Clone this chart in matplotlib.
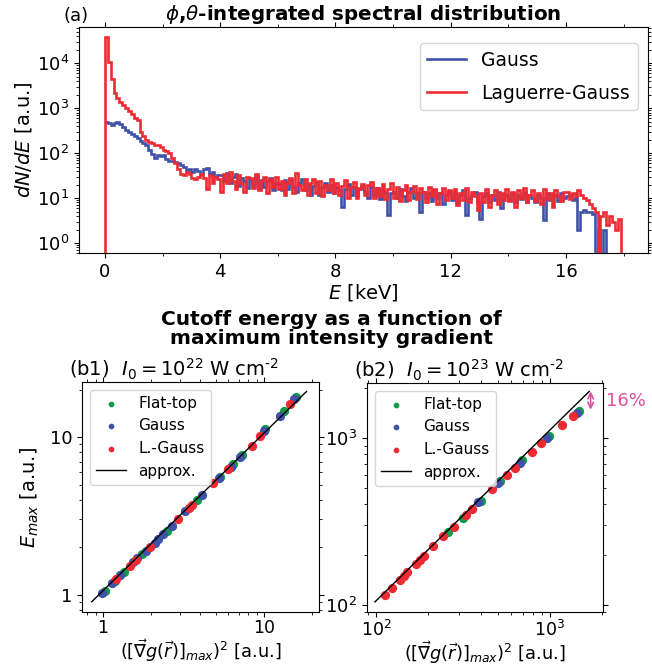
import numpy as np
import matplotlib
matplotlib.use("Agg")
import matplotlib.pyplot as plt
from matplotlib import ticker

# ---- (a) spectrum, 0.1 keV bins from 0 to 18 keV
bin_edges = np.round(np.arange(0, 18.01, 0.1), 2)

gauss_spec = [
    500, 470, 430, 470, 500, 450, 380, 330, 300, 270,
    240, 220, 190, 170, 150, 120, 95, 80, 90, 85,
    90, 75, 68, 66, 64, 60, 55, 50, 42, 45,
    38, 45, 40, 35, 44, 46, 35, 38, 30, 32,
    32, 24, 36, 22, 30, 34, 19, 28, 24, 17,
    26, 20, 29, 16, 25, 18, 24, 28, 15, 22,
    21, 15, 25, 16, 27, 18, 14, 22, 26, 15,
    21, 12, 19, 23, 12, 18, 22, 14, 20, 13,
    18, 15, 6.5, 16, 21, 12, 18, 11, 16, 19,
    14, 10, 18, 12, 17, 9.5, 15, 13, 4.2, 13,
    14, 10, 16, 11, 8.5, 14, 17, 10, 13, 5,
    14, 10, 13, 8.5, 15, 10, 13, 7.5, 12, 14,
    9, 13, 8, 12, 15, 4.2, 10, 12, 14, 8,
    3.5, 11, 13, 8, 12, 9, 14, 6, 11, 12,
    9, 13, 8, 12, 9.5, 14, 8, 12, 10, 8,
    12, 10, 3.2, 13, 9, 11, 12, 8.5, 13, 10,
    11, 12, 9, 10, 2, 5, 5.5, 5, 5, 4.5,
    0, 2, 0, 2, 0, 0, 0, 0, 0, 0,
]

lg_spec = [
    38000, 10500, 4500, 2200, 1700, 1400, 1200, 1000, 850, 750,
    620, 560, 300, 240, 200, 180, 165, 155, 150, 135,
    120, 110, 100, 80, 60, 45, 35, 32, 38, 34,
    28, 27, 30, 35, 28, 16, 33, 22, 30, 26,
    14, 34, 22, 38, 24, 16, 32, 22, 14, 30,
    28, 17, 34, 15, 24, 30, 13, 26, 18, 30,
    16, 24, 12, 22, 28, 13, 36, 20, 15, 27,
    12, 22, 27, 13, 24, 11, 20, 15, 26, 13,
    22, 12, 19, 25, 10, 18, 23, 10, 17, 21,
    12, 20, 23, 10, 17, 11, 21, 9.5, 16, 22,
    10, 18, 8.5, 15, 20, 9, 14, 19, 9.5, 17,
    14, 8, 18, 11, 16, 7.5, 13, 17, 9, 15,
    10, 16, 7, 13, 9, 17, 8, 14, 11, 5.5,
    13, 8, 16, 6.5, 12, 15, 7.5, 13, 9, 16,
    8.5, 14, 6.5, 15, 10, 17, 8, 12, 15, 8.5,
    13, 7.5, 16, 9.5, 13, 6.5, 15, 11, 8.5, 14,
    14, 9.5, 13, 11, 15, 12, 10, 9, 7.5, 6,
    5, 0, 4, 5, 2.5, 4, 3, 2, 3.5, 0,
]

# ---- (b1) I0 = 1e22
b1_flat_x = [1.03, 1.19, 1.34, 1.74, 2.49, 3.82, 5.33, 6.45, 7.27, 10.2, 13.3, 15.8]
b1_flat_y = [1.05, 1.22, 1.39, 1.81, 2.54, 4.0, 5.6, 6.78, 7.72, 11.2, 14.7, 17.9]
b1_gauss_x = [0.98, 1.13, 1.28, 1.54, 1.62, 1.85, 2.1, 2.2, 2.37, 2.67, 3.23, 4.1,
              5.25, 6.2, 7.1, 10.0, 12.5, 15.4]
b1_gauss_y = [1.02, 1.18, 1.33, 1.61, 1.70, 1.90, 2.14, 2.25, 2.42, 2.73, 3.38, 4.3,
              5.5, 6.5, 7.5, 11.0, 13.7, 17.5]
b1_lg_x = [1.2, 1.47, 1.6, 1.96, 2.94, 3.40, 3.56, 4.84, 6.0, 8.39, 9.44, 14.5]
b1_lg_y = [1.25, 1.51, 1.65, 2.02, 3.03, 3.55, 3.72, 5.08, 6.3, 8.83, 10.2, 16.3]
b1_fit_x = [0.85, 18.4]
b1_fit_y = [0.90, 19.5]

# ---- (b2) I0 = 1e23
b2_flat_x = [258, 318, 400, 516, 693, 984, 1473]
b2_flat_y = [273, 332, 421, 551, 734, 1023, 1445]
b2_gauss_x = [387, 505, 672, 957, 1435]
b2_gauss_y = [412, 535, 711, 996, 1419]
b2_lg_x = [112.6, 123, 137, 144, 151, 169, 179, 190, 214, 244, 282, 328, 355,
           462, 564, 629, 785, 887, 1167, 1350]
b2_lg_y = [115, 126, 141, 148, 157, 175, 186, 197, 225, 258, 294, 347, 377,
           492, 604, 662, 830, 934, 1199, 1355]
b2_fit_x = [98.7, 1683]
b2_fit_y = [104, 1905]

blue = "#3f51a8"
red = "#ee2a33"
green = "#129a4a"
pink = "#e0509c"

fig = plt.figure(figsize=(6.52, 6.65), dpi=100)

ax = fig.add_axes([0.1212, 0.6195, 0.8727, 0.3399])
ax.stairs(gauss_spec, bin_edges, baseline=None, color=blue, lw=1.9, label="Gauss")
ax.stairs(lg_spec, bin_edges, baseline=0, color=red, lw=1.9, label="Laguerre-Gauss")
ax.set_yscale("log")
ax.set_xlim(-0.9, 18.85)
ax.set_ylim(0.6, 6.4e4)
ax.set_xticks([0, 4, 8, 12, 16])
ax.xaxis.set_minor_locator(ticker.MultipleLocator(2))
ax.tick_params(which="both", top=True, right=True, labelsize=13)
ax.set_xlabel("$E$ [keV]", fontsize=14, labelpad=1)
ax.set_ylabel("$dN/dE$ [a.u.]", fontsize=14, labelpad=2)
ax.set_title(r"$\phi$,$\theta$-integrated spectral distribution",
             fontsize=14.3, fontweight="bold", pad=5)
ax.text(-0.005, 1.025, "(a)", transform=ax.transAxes, fontsize=13, ha="center")
ax.legend(loc="upper right", bbox_to_anchor=(0.995, 0.962), fontsize=13.5,
          handlelength=2.1, labelspacing=0.75, borderaxespad=0.4)

fig.text(0.508, 0.505, "Cutoff energy as a function of\nmaximum intensity gradient",
         ha="center", va="center", fontsize=14.5, fontweight="bold", linespacing=1.0)

xlab = r"$([\vec{\nabla}g(\vec{r})]_{max})^2$ [a.u.]"

def panel(rect, fx, fy, gx, gy, lx, ly, fitx, fity, title):
    a = fig.add_axes(rect)
    a.scatter(fx, fy, s=32, color=green, label="Flat-top", zorder=3)
    a.scatter(gx, gy, s=32, color=blue, label="Gauss", zorder=3)
    a.scatter(lx, ly, s=32, color=red, label="L.-Gauss", zorder=3)
    a.plot(fitx, fity, color="black", lw=1.0, label="approx.", zorder=4)
    a.set_xscale("log")
    a.set_yscale("log")
    a.tick_params(which="both", top=True, right=True, labelsize=13)
    a.tick_params(axis="x", labelsize=12.5, pad=1.5)
    a.xaxis.set_minor_formatter(ticker.NullFormatter())
    a.yaxis.set_minor_formatter(ticker.NullFormatter())
    a.set_xlabel(xlab, fontsize=12.8, labelpad=0)
    a.set_title(title, fontsize=14, x=0.39, pad=4)
    a.legend(loc="upper left", fontsize=11, markerscale=0.55, handlelength=2.0,
             labelspacing=0.5)
    return a

b1 = panel([0.1258, 0.079, 0.3635, 0.3466], b1_flat_x, b1_flat_y, b1_gauss_x, b1_gauss_y,
           b1_lg_x, b1_lg_y, b1_fit_x, b1_fit_y,
           r"(b1)  $I_0 = 10^{22}$ W cm$^{\text{-2}}$")
b1.set_xlim(0.74, 22)
b1.set_ylim(0.77, 22.4)
b1.xaxis.set_major_formatter(ticker.FormatStrFormatter("%g"))
b1.yaxis.set_major_formatter(ticker.FormatStrFormatter("%g"))
b1.set_ylabel("$E_{max}$ [a.u.]", fontsize=14, labelpad=6)

b2 = panel([0.5629, 0.079, 0.3619, 0.3451], b2_flat_x, b2_flat_y, b2_gauss_x, b2_gauss_y,
           b2_lg_x, b2_lg_y, b2_fit_x, b2_fit_y,
           r"(b2)  $I_0 = 10^{23}$ W cm$^{\text{-2}}$")
b2.set_xlim(88.8, 2018)
b2.set_ylim(89.8, 2140)
b2.annotate("", xy=(1714, 1480), xytext=(1714, 1905),
            arrowprops=dict(arrowstyle="<->", color=pink, lw=1.2,
                            shrinkA=0, shrinkB=0), annotation_clip=False)
b2.text(2090, 1660, "16%", color=pink, fontsize=13, va="center", ha="left",
        clip_on=False)

fig.savefig("out.png", dpi=100)
